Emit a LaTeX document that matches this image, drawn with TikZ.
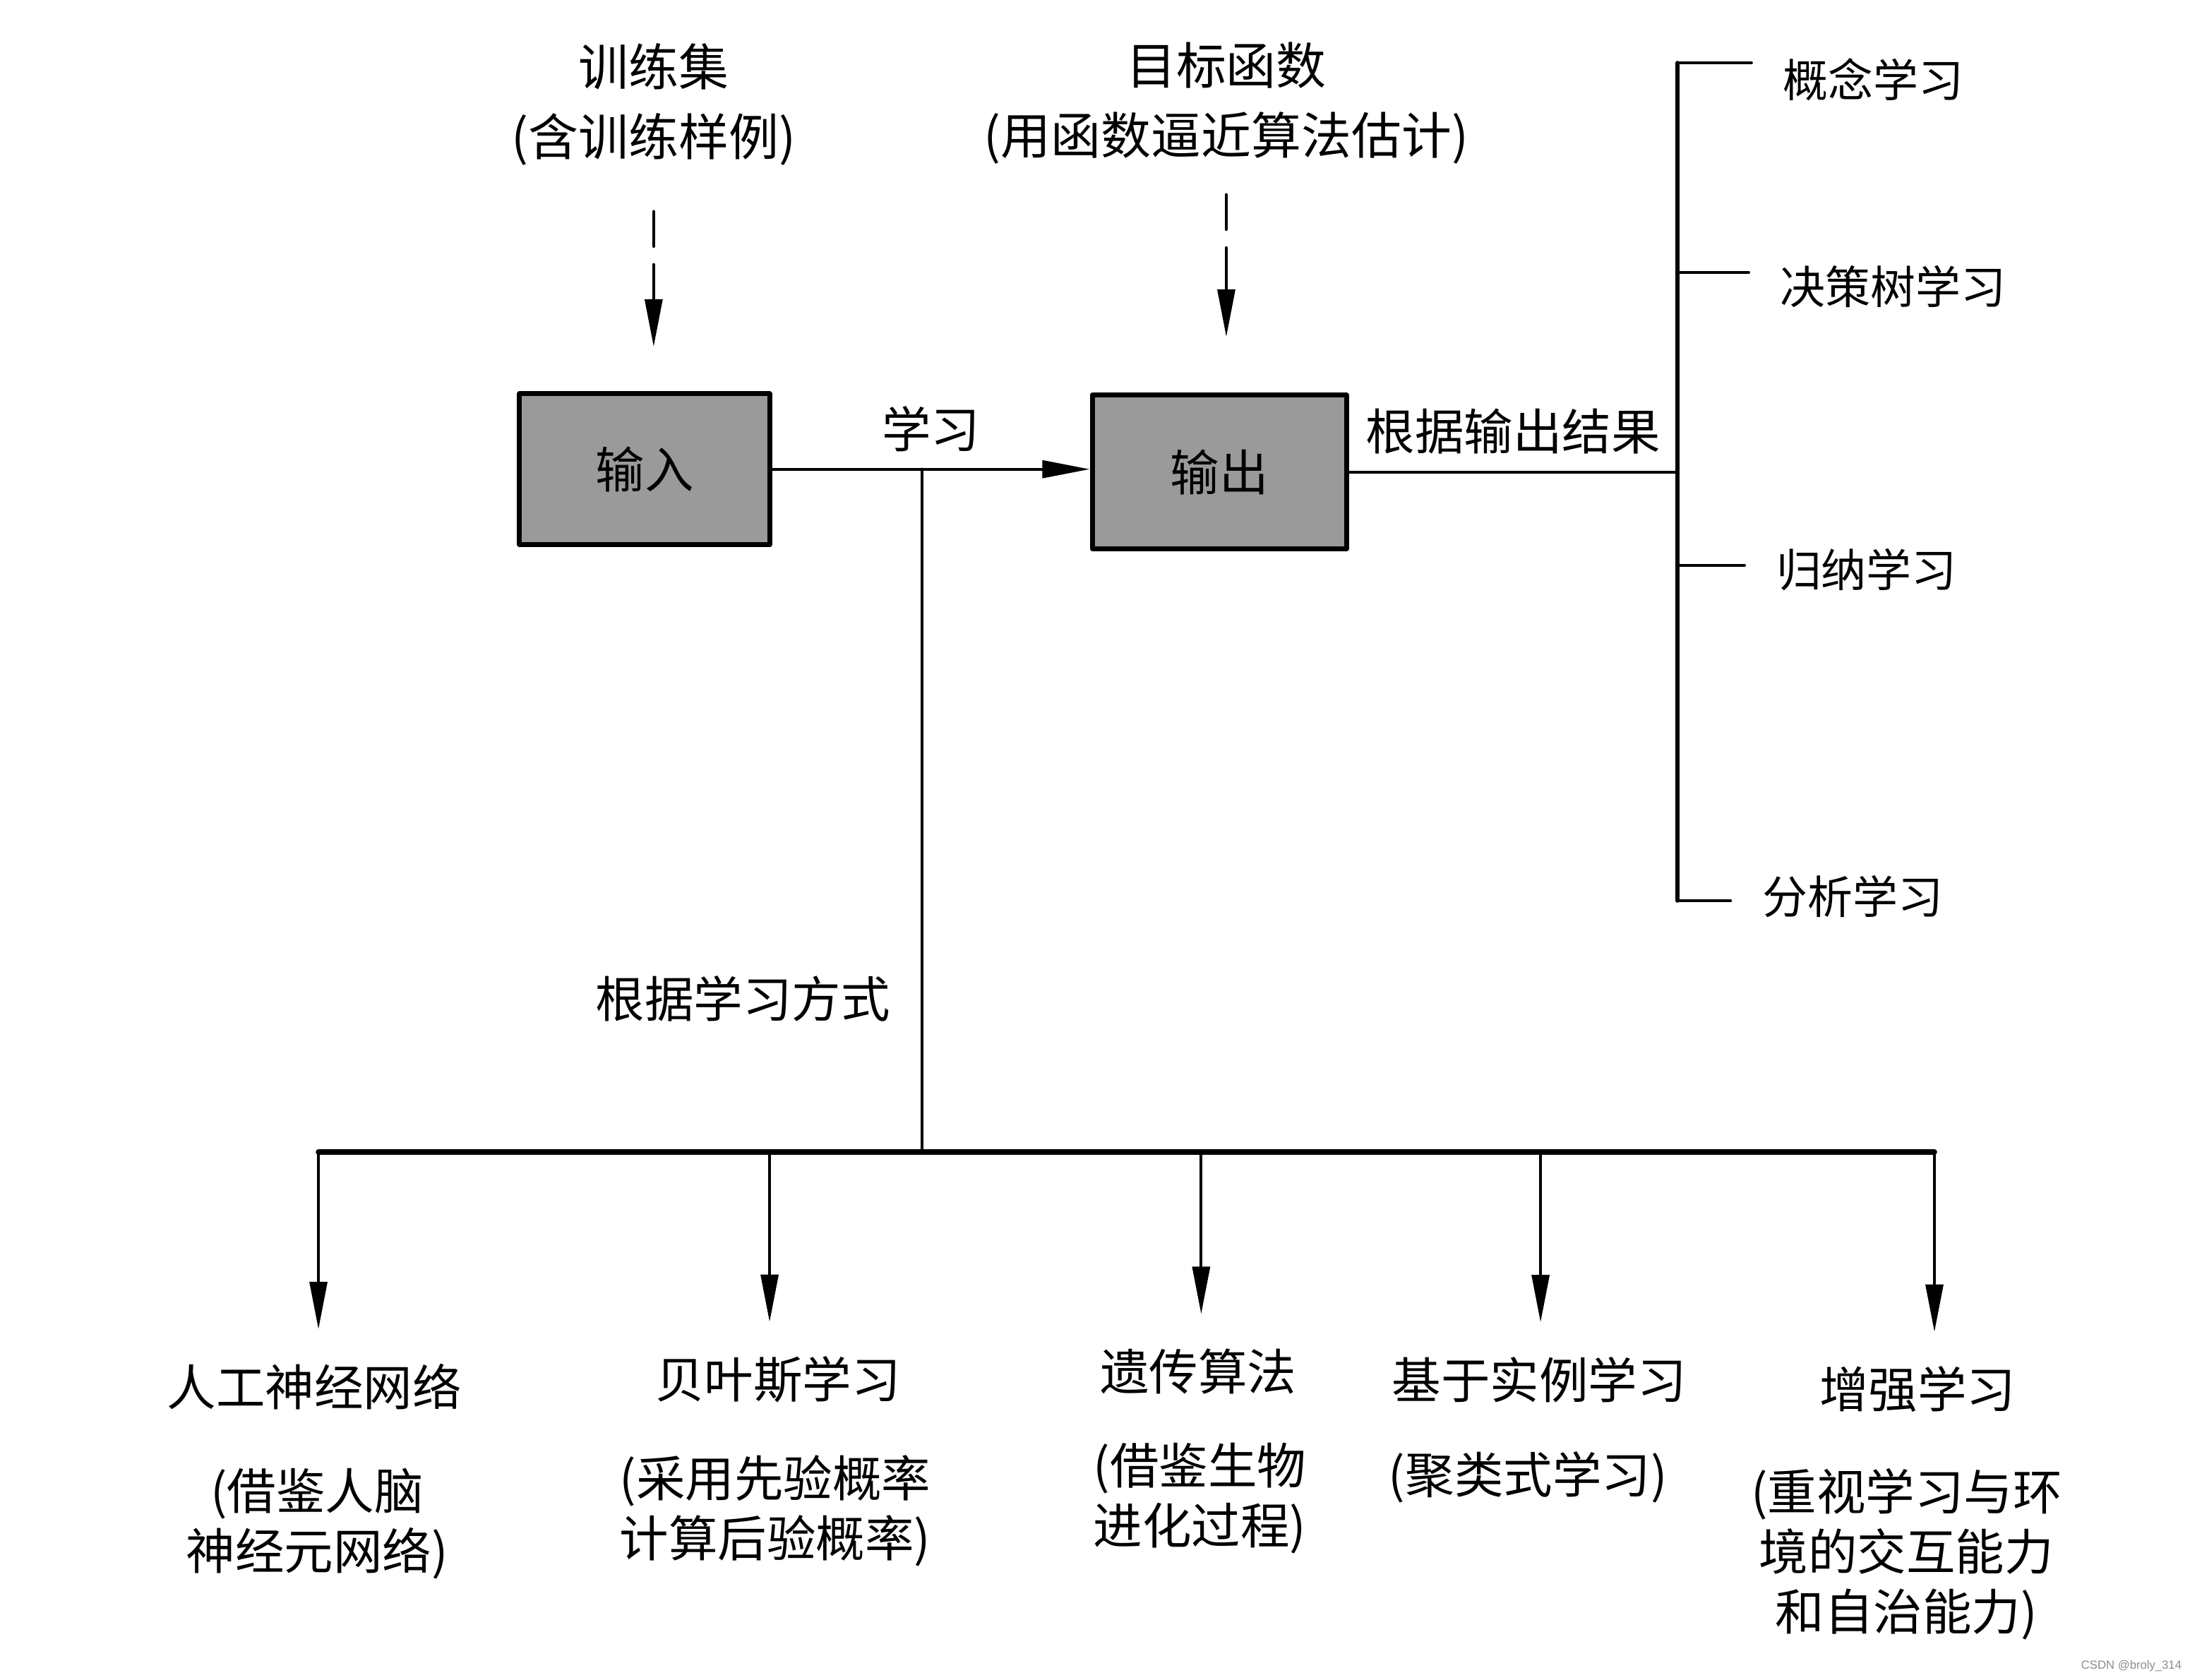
\documentclass[tikz,border=0pt]{standalone}
\usepackage{fontspec}
\setmainfont{Noto Sans CJK SC}
\newfontfamily\wmfont{Liberation Sans}
\usetikzlibrary{arrows.meta}
\definecolor{boxgray}{HTML}{9A9A9A}
\begin{document}
\begin{tikzpicture}[line join=round, line cap=round, line width=0.6pt, font=\fontsize{10pt}{0.43cm}\selectfont]
		\useasboundingbox (0,0) rectangle (15.68,12.03);
		\tikzset{
			arr/.style={-{Triangle[length=0.34cm,width=0.125cm]}},
			dasharr/.style={arr, dash pattern=on 0.25cm off 0.13cm on 4cm off 1cm},
			box/.style={draw, line width=1pt, fill=boxgray, minimum width=1.79cm, minimum height=1.08cm, inner sep=0pt},
			top/.style={align=center, font=\fontsize{10.2pt}{0.5cm}\selectfont},
			note/.style={align=center},
			sub/.style={anchor=west, font=\fontsize{9.2pt}{11pt}\selectfont}
		}
		\node[top] (train) at (4.68,11.28) {训练集\\(含训练样例)};
		\node[top] (target) at (8.78,11.29) {目标函数\\(用函数逼近算法估计)};
		\node[box] (in) at (4.615,8.67) {输入};
		\node[box, minimum width=1.82cm, minimum height=1.10cm] (out) at (8.73,8.65) {输出};
		\draw[dasharr, shorten <=0.2cm, shorten >=0.32cm] (train.south) -- (train.south |- in.north);
		\draw[dasharr, shorten <=0.09cm, shorten >=0.40cm] (target.south) -- (target.south |- out.north);
		\draw[arr] (in.east) -- (out.west |- in.east) node[midway, above] (lrn) {学习};
		
		\coordinate (j) at (6.60,8.67);
		\coordinate (b1) at (2.28,3.78);
		\coordinate (b2) at (5.51,3.78);
		\coordinate (b3) at (8.60,3.78);
		\coordinate (b4) at (11.03,3.78);
		\coordinate (b5) at (13.85,3.78);
		\draw (j) -- (j |- b1);
		\node[anchor=east] (way) at (6.50,4.88) {根据学习方式};
		\draw[line width=1.1pt] (b1) -- (b5);
		
		\node (t1) at (2.25,2.10) {人工神经网络};
		\node (t2) at (5.57,2.15) {贝叶斯学习};
		\node (t3) at (8.58,2.21) {遗传算法};
		\node (t4) at (11.02,2.15) {基于实例学习};
		\node (t5) at (13.73,2.08) {增强学习};
		\foreach \i in {1,...,5}
			\draw[arr, shorten >=0.12cm] (b\i) -- (b\i |- t\i.north);
		\node[note] (d1) at (2.27,1.12) {(借鉴人脑\\神经元网络)};
		\node[note] (d2) at (5.55,1.21) {(采用先验概率\\计算后验概率)};
		\node[note] (d3) at (8.59,1.30) {(借鉴生物\\进化过程)};
		\node[note] (d4) at (10.94,1.45) {(聚类式学习)};
		\node[note] (d5) at (13.65,0.90) {(重视学习与环\\境的交互能力\\和自治能力)};
		
		\coordinate (rj) at (12.01,8.65);
		\draw (out.east) -- (rj) node[midway, above] (res) {根据输出结果};
		\coordinate (k1) at (12.01,11.58);
		\coordinate (k2) at (12.01,10.08);
		\coordinate (k3) at (12.01,7.98);
		\coordinate (k4) at (12.01,5.58);
		\draw[line width=0.8pt] (k1) -- (k4);
		\node[sub] (c1) at (12.64,11.46) {概念学习};
		\node[sub] (c2) at (12.62,9.98) {决策树学习};
		\node[sub] (c3) at (12.59,7.95) {归纳学习};
		\node[sub] (c4) at (12.49,5.61) {分析学习};
		\foreach \i in {1,...,4}
			\draw[shorten >=0.1cm] (k\i) -- (k\i -| c\i.west);
		
		\node[font=\wmfont\fontsize{2.4pt}{3pt}\selectfont, text=black!45, anchor=east, inner sep=0pt] (wm) at (15.63,0.10) {CSDN @broly\_314};
\end{tikzpicture}
\end{document}
